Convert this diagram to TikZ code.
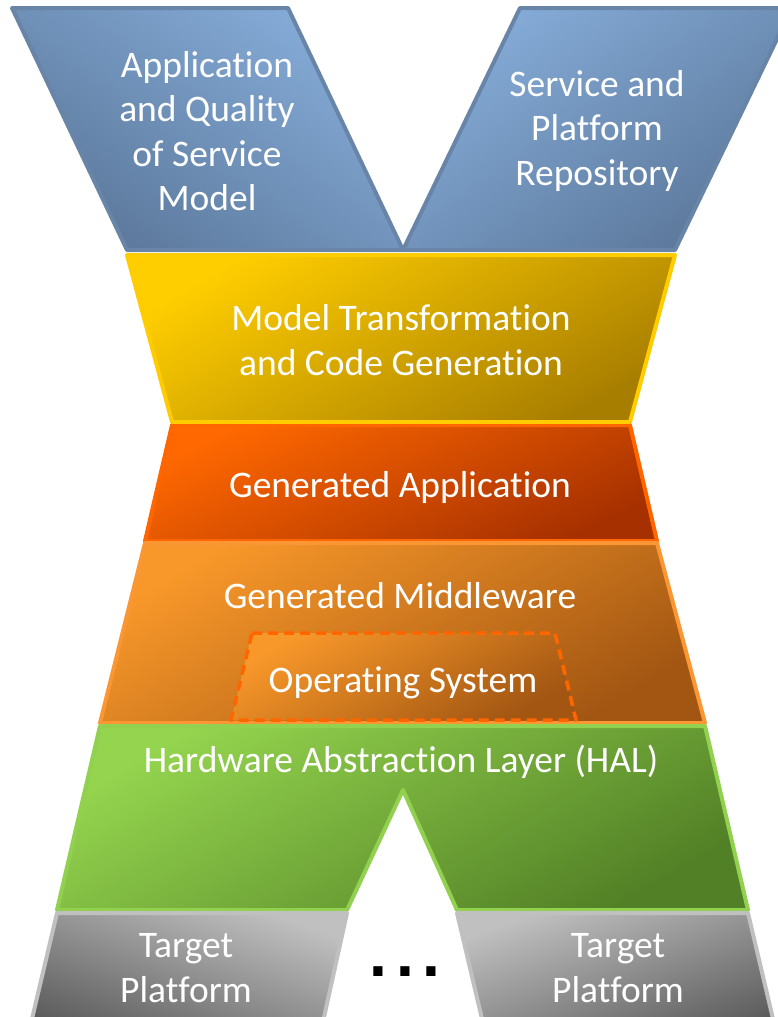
\documentclass[tikz,border=0pt]{standalone}
\usepackage{fontspec}
\setmainfont[RawFeature=-liga, RawFeature=-clig, RawFeature=-calt, RawFeature=-dlig]{Carlito}
\newfontfamily\dotfont{DejaVu Sans}
\definecolor{blueLight}{RGB}{133,172,216}
\definecolor{blueDark}{RGB}{92,120,155}
\definecolor{blueEdge}{RGB}{104,133,168}
\definecolor{goldLight}{RGB}{255,206,0}
\definecolor{goldDark}{RGB}{168,126,0}
\definecolor{goldEdge}{RGB}{255,204,0}
\definecolor{redLight}{RGB}{255,104,0}
\definecolor{redDark}{RGB}{166,48,0}
\definecolor{redEdge}{RGB}{255,102,0}
\definecolor{ambLight}{RGB}{248,152,42}
\definecolor{ambDark}{RGB}{162,86,18}
\definecolor{ambEdge}{RGB}{250,150,52}
\definecolor{grnLight}{RGB}{148,212,78}
\definecolor{grnDark}{RGB}{82,128,38}
\definecolor{grnEdge}{RGB}{146,208,80}
\definecolor{gryLight}{RGB}{192,192,192}
\definecolor{gryDark}{RGB}{92,92,92}
\definecolor{gryEdge}{RGB}{192,192,192}
\tikzset{
  layer/.style={line width=4pt, line join=round},
  label/.style={text=white, align=center, inner sep=0pt,
    font=\fontsize{37.5}{44.5}\selectfont},
}
\begin{document}
\begin{tikzpicture}[x=1pt,y=-1pt]
\useasboundingbox (0,0) rectangle (778,1017);
\clip (0,0) rectangle (778,1017);
\fill[white] (0,0) rectangle (778,1017);

% two input models on top
\path[layer, draw=blueEdge, top color=blueLight, bottom color=blueDark, shading angle=-35]
  (12,8) -- (288,8) -- (403,250) -- (127,250) -- cycle;
\path[layer, draw=blueEdge, top color=blueLight, bottom color=blueDark, shading angle=35]
  (520,8) -- (792,8) -- (675,250) -- (403,250) -- cycle;

% transformation step
\path[layer, draw=goldEdge, top color=goldLight, bottom color=goldDark, shading angle=30]
  (127,255) -- (675,255) -- (630,422) -- (172,422) -- cycle;

% generated application
\path[layer, draw=redEdge, top color=redLight, bottom color=redDark, shading angle=25]
  (172,425) -- (630,425) -- (657,541) -- (145,541) -- cycle;
\path[layer, draw=goldEdge] (172,422) -- (630,422);

% generated middleware with the operating system inside
\path[layer, draw=ambEdge, top color=ambLight, bottom color=ambDark, shading angle=30]
  (145,543) -- (657,543) -- (705,723) -- (100,723) -- cycle;
\path[line width=3.5pt, draw=redEdge, dash pattern=on 10pt off 6pt, line join=round,
      top color=ambLight, bottom color=ambDark, shading angle=30]
  (252,633) -- (555,633) -- (576,720) -- (231,720) -- cycle;

% hardware abstraction layer
\path[layer, draw=grnEdge, top color=grnLight, bottom color=grnDark, shading angle=30]
  (100,726) -- (705,726) -- (748,910) -- (457,910) -- (403,790)
  -- (347,910) -- (57,910) -- cycle;

% target platforms
\path[layer, draw=gryEdge, top color=gryLight, bottom color=gryDark, shading angle=-20]
  (57,913) -- (347,913) -- (319,1040) -- (27,1040) -- cycle;
\path[layer, draw=gryEdge, top color=gryLight, bottom color=gryDark, shading angle=20]
  (457,913) -- (748,913) -- (778,1040) -- (487,1040) -- cycle;

% labels
\node[label] (appmodel) at (207,131) {Application\\and Quality\\of Service\\Model};
\node[label] (repo) at (597,131) {Service and\\Platform\\Repository};
\node[label] (mtcg) at (401,340) {Model Transformation\\and Code Generation};
\node[label] (genapp) at (400,487) {Generated Application};
\node[label] (genmw) at (400,596) {Generated Middleware};
\node[label] (os) at (403,683) {Operating System};
\node[label] (hal) at (401,762) {Hardware Abstraction Layer (HAL)};
\node[label] (tp1) at (186,968) {Target\\Platform};
\node[label] (tp2) at (618,968) {Target\\Platform};
\node[inner sep=0pt, anchor=base, font=\dotfont\bfseries\fontsize{52}{52}\selectfont]
  (more) at (405,976) {.\hskip 7pt.\hskip 7pt.};
\end{tikzpicture}
\end{document}
